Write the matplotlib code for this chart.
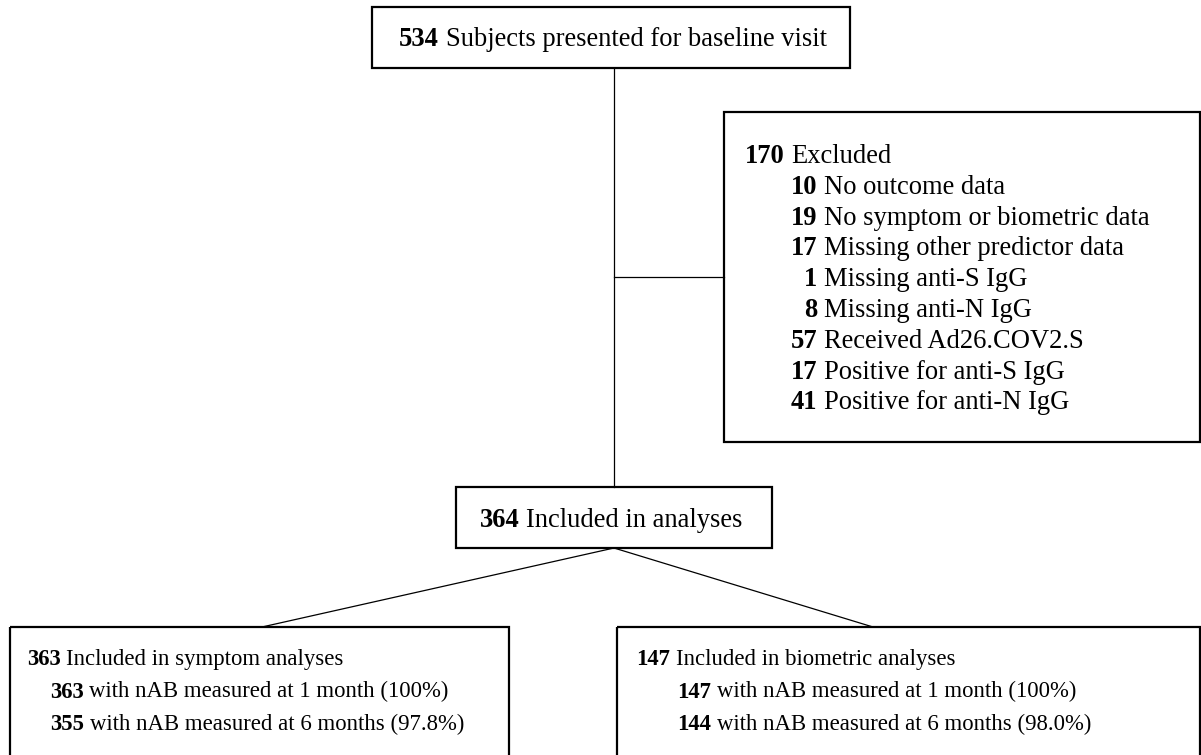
import matplotlib
matplotlib.use("Agg")
import matplotlib.pyplot as plt
from matplotlib.patches import Rectangle

# flowchart counts and labels
top_n = "534"
top_lbl = "Subjects presented for baseline visit"

excl_n = "170"
excl_lbl = "Excluded"
excl_sub_n = ["10", "19", "17", "1", "8", "57", "17", "41"]
excl_sub_lbl = ["No outcome data", "No symptom or biometric data",
                "Missing other predictor data", "Missing anti-S IgG",
                "Missing anti-N IgG", "Received Ad26.COV2.S",
                "Positive for anti-S IgG", "Positive for anti-N IgG"]

mid_n = "364"
mid_lbl = "Included in analyses"

sym_n = ["363", "363", "355"]
sym_lbl = ["Included in symptom analyses",
           "with nAB measured at 1 month (100%)",
           "with nAB measured at 6 months (97.8%)"]

bio_n = ["147", "147", "144"]
bio_lbl = ["Included in biometric analyses",
           "with nAB measured at 1 month (100%)",
           "with nAB measured at 6 months (98.0%)"]

plt.rcParams['font.family'] = ['Liberation Serif', 'DejaVu Serif']
FS = 19.1      # upper boxes
FS_LOW = 16.4  # lower boxes (text is narrower there)

fig = plt.figure(figsize=(12.01, 7.55), dpi=100)
ax = fig.add_axes([0, 0, 1, 1])
ax.set_xlim(0, 1201)
ax.set_ylim(755, 0)
ax.axis('off')
renderer = fig.canvas.get_renderer()


def box(x0, y0, x1, y1):
    ax.add_patch(Rectangle((x0, y0), x1 - x0, y1 - y0, fill=False,
                           ec='black', lw=1.6, zorder=3))


def entry(x, y, num, lbl, ha='left', fs=FS):
    t = ax.text(x, y, num, fontsize=fs, fontweight='bold', ha=ha,
                va='baseline')
    bb = t.get_window_extent(renderer)
    # 1 data unit == 1 pixel here
    x_end = bb.x1
    gap = 0.25 * fs * 100 / 72
    ax.text(x_end + gap, y, lbl, fontsize=fs, ha='left', va='baseline')


# connectors
lc = dict(color='black', lw=0.9, zorder=1)
ax.plot([614, 614], [68, 487], **lc)
ax.plot([614, 724], [277, 277], **lc)
ax.plot([614, 262], [548, 627], **lc)
ax.plot([614, 873], [548, 627], **lc)

# boxes
box(372, 7, 850, 68)
box(724, 112, 1200, 442)
box(456, 487, 772, 548)
box(10, 627, 509, 770)
box(617, 627, 1200, 770)

# text
entry(399, 46, top_n, top_lbl)

entry(745, 163, excl_n, excl_lbl)
for i, (n, l) in enumerate(zip(excl_sub_n, excl_sub_lbl)):
    entry(817, 163 + 30.8 * (i + 1), n, l, ha='right')

entry(480, 527, mid_n, mid_lbl)

for i, (n, l) in enumerate(zip(sym_n, sym_lbl)):
    entry(27 if i == 0 else 50, 665 + 32.5 * i, n, l, fs=FS_LOW)
for i, (n, l) in enumerate(zip(bio_n, bio_lbl)):
    entry(636 if i == 0 else 677, 665 + 32.5 * i, n, l, fs=FS_LOW)

fig.savefig('out.png', dpi=100)
